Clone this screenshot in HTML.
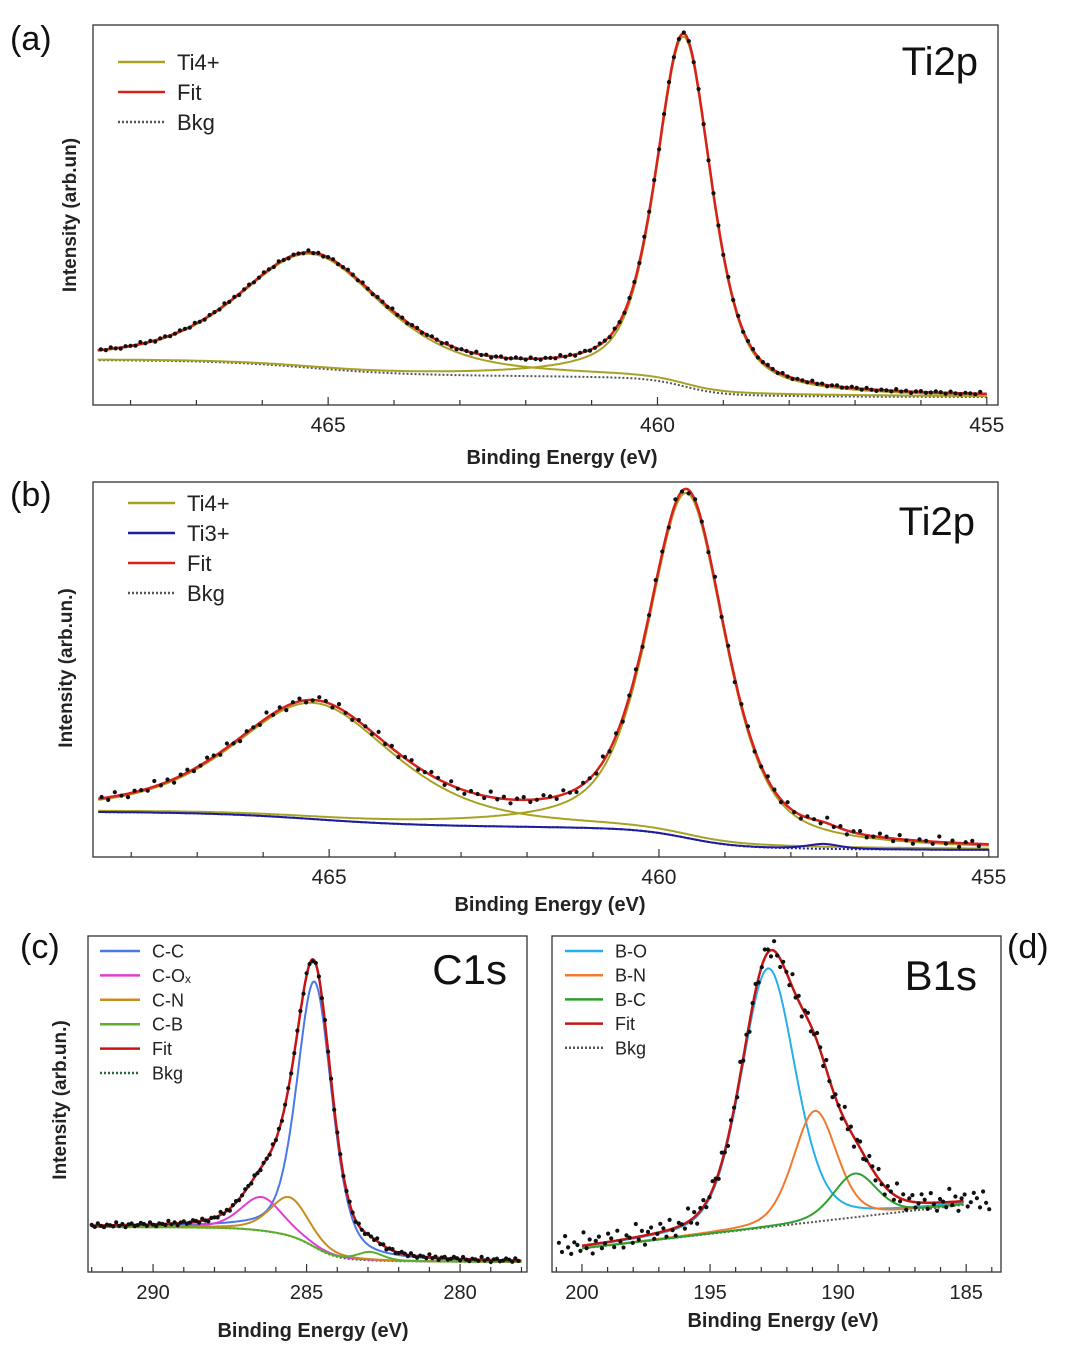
<!DOCTYPE html>
<html><head><meta charset="utf-8">
<style>
html,body{margin:0;padding:0;background:#fff;}
svg{display:block;font-family:"Liberation Sans",sans-serif;}
</style></head>
<body>
<svg id="fig" width="1069" height="1347" viewBox="0 0 1069 1347" xmlns="http://www.w3.org/2000/svg"></svg>
<script>
// ---- Panel (a) data ----
const aCenters = [459.6, 465.26];
const aAmps = [92, 30];
const aWidths = [1.0, 2.6];
const aBkgLow = 2.1, aBkgHigh = 11.8;
// ---- Panel (b) data ----
const bCenters = [459.58, 465.24, 457.5];
const bAmps = [92, 31, 1.3];
const bWidths = [1.4, 2.9, 0.6];
const bBkgLow = 1.9, bBkgHigh = 12;
// ---- Panel (c) data ----
const cCenters = [284.74, 286.47, 285.55, 282.93];
const cAmps = [79, 10, 11.5, 2.5];
const cWidths = [1.35, 1.6, 1.5, 1.0];
const cBkgLow = 3, cBkgHigh = 13.4;
// ---- Panel (d) data ----
const dCenters = [192.73, 190.9, 189.34];
const dAmps = [77, 33, 13];
const dWidths = [2.5, 2.0, 2.0];
const dBkgEnds = [7, 20]; // bkg at 200 eV and 185 eV
// residual pattern for the measured points
const residuals = [0.3,-0.5,0.8,-0.2,-0.9,0.5,0.1,-0.6,0.9,-0.3,0.4,-0.8,0.2,0.7,-0.4,-0.1,0.6];
// tick labels
const abTicks = [465, 460, 455];
const cTicks = [290, 285, 280];
const dTicks = [200, 195, 190, 185];

const NS = "http://www.w3.org/2000/svg";
const svg = document.getElementById('fig');
function el(tag, attrs, parent){
  const e = document.createElementNS(NS, tag);
  for (const k in attrs) e.setAttribute(k, attrs[k]);
  (parent||svg).appendChild(e);
  return e;
}
function txt(s, attrs, parent){ const t = el('text', attrs, parent); t.textContent = s; return t; }

let ETA = 0.3;
function pv(x,c,a,w){ const d=(x-c)/w; return a*(ETA/(1+4*d*d)+(1-ETA)*Math.exp(-4*Math.LN2*d*d)); }

function panel(cfg){
  ETA = cfg.eta;
  const g = el('g', {});
  
  
  const X = e => cfg.x0 + (cfg.eL - e)/(cfg.eL - cfg.eR)*(cfg.x1 - cfg.x0);
  const Y = v => cfg.y1 - v/100*(cfg.y1 - cfg.y0);
  const N = 600, grid = [];
  for (let i=0;i<=N;i++){ const e = cfg.fE1 + (cfg.fE0 - cfg.fE1)*i/N; grid.push(e); }
  const tot = grid.map(e => cfg.c.reduce((s,c,k)=>s+pv(e,c,cfg.a[k],cfg.w[k]),0));
  let bk;
  if (cfg.linear){
    bk = grid.map(e => cfg.lin[0] + (cfg.lin[1]-cfg.lin[0])*(cfg.fE0 - e)/(cfg.fE0 - cfg.fE1));
  } else {
    const cum=[0]; for(let i=1;i<=N;i++) cum.push(cum[i-1]+tot[i]);
    bk = cum.map(c => cfg.lo + (cfg.hi-cfg.lo)*c/cum[N]);
  }
  const bkAt = e => { const i = Math.max(0,Math.min(N,Math.round((e-cfg.fE1)/(cfg.fE0-cfg.fE1)*N))); return bk[i]; };
  const fitAt = e => bkAt(e) + cfg.c.reduce((s,c,k)=>s+pv(e,c,cfg.a[k],cfg.w[k]),0);
  const path = f => grid.map((e,i)=>(i?'L':'M')+X(e).toFixed(1)+' '+Y(f(e,i)).toFixed(1)).join(' ');
  const pb = el('path', {d: path((e,i)=>bk[i]), fill:'none', stroke:cfg.bkgColor, 'stroke-width':2, 'stroke-dasharray':'2 2'}, g);
   
  cfg.c.forEach((c,k)=>{
    const p = el('path', {d: path((e,i)=>bk[i]+pv(e,c,cfg.a[k],cfg.w[k])), fill:'none', stroke:cfg.colors[k], 'stroke-width':2}, g);
    
    
  });
  const pf = el('path', {d: path((e,i)=>bk[i]+tot[i]), fill:'none', stroke:cfg.fitColor, 'stroke-width':2.5}, g);
   
  let j=0;
  for (let e=cfg.dE0; e>=cfg.dE1; e-=cfg.dStep){
    const ee = Math.min(cfg.fE0, Math.max(cfg.fE1, e));
    const v = fitAt(ee) + residuals[j%residuals.length]*cfg.noise*(1+0.4*residuals[(j*7+3)%residuals.length]);
    const d = el('circle', {cx:X(e).toFixed(1), cy:Y(v).toFixed(1), r:2.1, fill:'#111'}, g);
     
    j++;
  }
  const fr = el('rect', {x:cfg.x0, y:cfg.y0, width:cfg.x1-cfg.x0, height:cfg.y1-cfg.y0, fill:'none', stroke:'#333', 'stroke-width':1.3}, g);
   
  for (let e=Math.floor(cfg.eL); e>=Math.ceil(cfg.eR); e--){
    const major = e%5===0;
    const t = el('line', {x1:X(e), x2:X(e), y1:cfg.y1, y2:cfg.y1-(major?8:5), stroke:'#333', 'stroke-width':1.2}, g);
     
  }
  cfg.ticks.forEach(v=>{
    const t = txt(String(v), {x:X(v), y:cfg.y1+27, 'text-anchor':'middle', 'font-size':cfg.tickFs, fill:'#222'}, g);
     
  });
  const xt = txt('Binding Energy (eV)', {x:cfg.xtX, y:cfg.xtY, 'text-anchor':'middle', 'font-size':20, 'font-weight':'bold', fill:'#222'}, g);
   
  if (cfg.yTitle){
    const yt = txt(cfg.yTitle, {x:0, y:0, transform:`translate(${cfg.ytX},${cfg.ytY}) rotate(-90)`, 'text-anchor':'middle', 'font-size':19, 'font-weight':'bold', fill:'#222'}, g);
     
  }
  const lg = el('g', {}, g);
   
  cfg.legend.forEach((it,i)=>{
    const y = cfg.lgY + i*cfg.lgDy;
    const l = el('line', {x1:cfg.lgX, x2:cfg.lgX+cfg.lgLen, y1:y, y2:y, stroke:it[1], 'stroke-width':2.5, 'stroke-dasharray':it[2]?'2 2':'none'}, lg);
     
    const t = txt(it[0], {x:cfg.lgX+cfg.lgLen+12, y:y+cfg.lgFs*0.36, 'font-size':cfg.lgFs, fill:'#222'}, lg);
     
  });
  const tt = txt(cfg.title, {x:cfg.tX, y:cfg.tY, 'text-anchor':'end', 'font-size':cfg.tFs, fill:'#111'}, g);
   
  const pl = txt(cfg.pLabel, {x:cfg.pX, y:cfg.pY, 'font-size':34, fill:'#111'}, g);
   
}

const olive='#a8a224', red='#d8201c', navy='#1c1c9c', dk='#555';
panel({name:'panel-a', eta:0.55, x0:93,x1:998,y0:25,y1:405, eL:468.57, eR:454.83,
  c:aCenters,a:aAmps,w:aWidths, lo:aBkgLow, hi:aBkgHigh, fE0:468.5, fE1:455.0,
  colors:[olive,olive], labels:['Ti4+ a','Ti4+ b'], fitColor:red, bkgColor:dk,
  dE0:468.45, dE1:455.1, dStep:0.075, noise:0.4, ticks:abTicks, tickFs:21,
  xtX:562, xtY:464, yTitle:'Intensity (arb.un)', ytX:76, ytY:215,
  legend:[['Ti4+',olive],['Fit',red],['Bkg',dk,1]], lgX:118,lgY:62,lgDy:30,lgLen:47,lgFs:22,
  title:'Ti2p', tX:978, tY:75, tFs:40, pLabel:'(a)', pX:10, pY:50});
panel({name:'panel-b', eta:0.55, x0:93,x1:998,y0:482,y1:857, eL:468.58, eR:454.86,
  c:bCenters,a:bAmps,w:bWidths, lo:bBkgLow, hi:bBkgHigh, fE0:468.5, fE1:455.0,
  colors:[olive,olive,navy], labels:['Ti4+ a','Ti4+ b','Ti3+'], fitColor:red, bkgColor:navy,
  dE0:468.45, dE1:455.1, dStep:0.1, noise:1.2, ticks:abTicks, tickFs:21,
  xtX:550, xtY:911, yTitle:'Intensity (arb.un.)', ytX:72, ytY:668,
  legend:[['Ti4+',olive],['Ti3+',navy],['Fit',red],['Bkg',dk,1]], lgX:128,lgY:503,lgDy:30,lgLen:47,lgFs:22,
  title:'Ti2p', tX:975, tY:535, tFs:40, pLabel:'(b)', pX:10, pY:506});
panel({name:'panel-c', eta:0.4, x0:88,x1:527,y0:936,y1:1272, eL:292.12, eR:277.82,
  c:cCenters,a:cAmps,w:cWidths, lo:cBkgLow, hi:cBkgHigh, fE0:292.0, fE1:278.0,
  colors:['#4a78e6','#e03ed4','#c88c1c','#5cae2c'], labels:['C-C','C-Ox','C-N','C-B'], fitColor:'#c41414', bkgColor:'#2a6a3a',
  dE0:292.0, dE1:278.0, dStep:0.1, noise:0.7, ticks:cTicks, tickFs:20,
  xtX:313, xtY:1337, yTitle:'Intensity (arb.un.)', ytX:66, ytY:1100,
  legend:[['C-C','#4a78e6'],['C-Oₓ','#e03ed4'],['C-N','#c88c1c'],['C-B','#5cae2c'],['Fit','#c41414'],['Bkg','#2a6a3a',1]], lgX:100,lgY:951,lgDy:24.4,lgLen:40,lgFs:18,
  title:'C1s', tX:507, tY:984, tFs:42, pLabel:'(c)', pX:20, pY:958});
panel({name:'panel-d', eta:0.3, x0:552,x1:1001,y0:936,y1:1272, eL:201.17, eR:183.64,
  c:dCenters,a:dAmps,w:dWidths, linear:true, lin:dBkgEnds, fE0:200.0, fE1:185.1,
  colors:['#24b0ea','#f07a30','#2ea02e'], labels:['B-O','B-N','B-C'], fitColor:'#c41414', bkgColor:'#555',
  dE0:200.9, dE1:184.0, dStep:0.12, noise:3.2, ticks:dTicks, tickFs:20,
  xtX:783, xtY:1327, yTitle:null,
  legend:[['B-O','#24b0ea'],['B-N','#f07a30'],['B-C','#2ea02e'],['Fit','#c41414'],['Bkg','#555',1]], lgX:565,lgY:951,lgDy:24.2,lgLen:38,lgFs:18,
  title:'B1s', tX:977, tY:990, tFs:42, pLabel:'(d)', pX:1007, pY:958});
</script>
</body></html>
